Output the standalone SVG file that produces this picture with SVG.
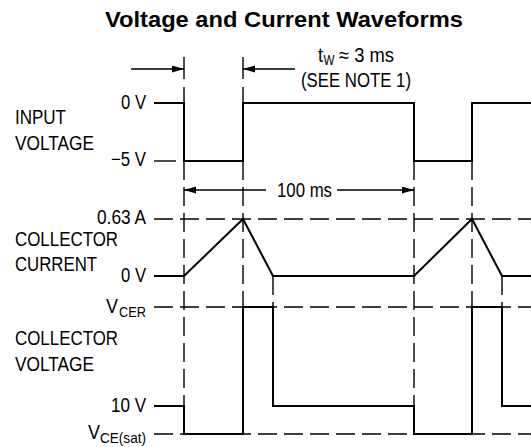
<svg xmlns="http://www.w3.org/2000/svg" width="531" height="447" viewBox="0 0 531 447">
<style>
  text { font-family: "Liberation Sans Narrow", "Liberation Sans", Arial, sans-serif; font-size: 20px; fill: #000; }
  .title { font-weight: bold; font-family: "Liberation Sans", Arial, sans-serif; font-size: 22px; }
  .sub { font-size: 15px; }
  .wave { fill: none; stroke: #000; stroke-width: 2; stroke-linejoin: miter; }
  .dash { fill: none; stroke: #000; stroke-width: 1.4; stroke-dasharray: 19 7; }
  .thin { fill: none; stroke: #000; stroke-width: 1.4; }
</style>
<defs>
  <marker id="arr" markerUnits="userSpaceOnUse" markerWidth="13" markerHeight="8" refX="12" refY="3.5" orient="auto">
    <path d="M0,0 L12,3.5 L0,7 Z" fill="#000"/>
  </marker>
</defs>
<rect width="531" height="447" fill="#fff"/>

<text id="title" class="title" x="105" y="27" textLength="358" lengthAdjust="spacingAndGlyphs">Voltage and Current Waveforms</text>

<g id="connectors">
  <g id="dashed">
    <path class="dash" d="M154,219 H531"/>
    <path class="dash" d="M154,307 H531"/>
    <path class="dash" d="M154,434 H531"/>
    <path class="dash" d="M184,161 V434"/>
    <path class="dash" d="M243,161 V307"/>
    <path class="dash" d="M273,276 V307"/>
    <path class="dash" d="M414,161 V434"/>
    <path class="dash" d="M472,161 V307"/>
    <path class="dash" d="M502,276 V307"/>
  </g>
  <g id="dimensions">
    <path class="thin" d="M184,57 V79"/>
    <path class="thin" d="M243,57 V79"/>
    <path class="thin" d="M184,87 V103"/>
    <path class="thin" d="M243,87 V103"/>
    <line class="thin" x1="131" y1="69" x2="184" y2="69" marker-end="url(#arr)"/>
    <line class="thin" x1="295" y1="69" x2="243" y2="69" marker-end="url(#arr)"/>
    <line class="thin" x1="266" y1="190" x2="184" y2="190" marker-end="url(#arr)"/>
    <line class="thin" x1="337" y1="190" x2="414" y2="190" marker-end="url(#arr)"/>
    <path class="thin" d="M154,161 H176"/>
  </g>
</g>

<g id="input-voltage">
  <path class="wave" d="M154,103 H184 V161 H243 V103 H414 V161 H472 V103 H531"/>
</g>
<g id="collector-current">
  <path class="wave" d="M154,276 H184 L243,219 L273,276 H414 L472,219 L502,276 H531"/>
</g>
<g id="collector-voltage">
  <path class="wave" d="M154,406 H184 V434 H243 V307 H273 V406 H414 V434 H472 V307 H502 V406 H531"/>
</g>

<g id="labels">
  <text x="318" y="62" textLength="5" lengthAdjust="spacingAndGlyphs">t</text>
  <text class="sub" x="323.5" y="65" textLength="11" lengthAdjust="spacingAndGlyphs">W</text>
  <text x="339" y="62" textLength="55" lengthAdjust="spacingAndGlyphs">≈ 3 ms</text>
  <text x="301" y="87" textLength="110" lengthAdjust="spacingAndGlyphs">(SEE NOTE 1)</text>

  <text x="121" y="109" textLength="25" lengthAdjust="spacingAndGlyphs">0 V</text>
  <text x="15" y="124" textLength="51" lengthAdjust="spacingAndGlyphs">INPUT</text>
  <text x="15" y="150" textLength="79" lengthAdjust="spacingAndGlyphs">VOLTAGE</text>
  <text x="111" y="166" textLength="35" lengthAdjust="spacingAndGlyphs">−5 V</text>

  <text x="277" y="197" textLength="55" lengthAdjust="spacingAndGlyphs">100 ms</text>

  <text x="97" y="224" textLength="49" lengthAdjust="spacingAndGlyphs">0.63 A</text>
  <text x="15" y="246" textLength="103" lengthAdjust="spacingAndGlyphs">COLLECTOR</text>
  <text x="15" y="271" textLength="82" lengthAdjust="spacingAndGlyphs">CURRENT</text>
  <text x="121" y="282" textLength="25" lengthAdjust="spacingAndGlyphs">0 V</text>

  <text x="106" y="313" textLength="12" lengthAdjust="spacingAndGlyphs">V</text>
  <text class="sub" x="119" y="317" textLength="27" lengthAdjust="spacingAndGlyphs">CER</text>
  <text x="15" y="345" textLength="103" lengthAdjust="spacingAndGlyphs">COLLECTOR</text>
  <text x="15" y="371" textLength="79" lengthAdjust="spacingAndGlyphs">VOLTAGE</text>
  <text x="111" y="412" textLength="35" lengthAdjust="spacingAndGlyphs">10 V</text>
  <text x="88" y="439" textLength="12" lengthAdjust="spacingAndGlyphs">V</text>
  <text class="sub" x="100" y="443" textLength="46" lengthAdjust="spacingAndGlyphs">CE(sat)</text>
</g>
</svg>
